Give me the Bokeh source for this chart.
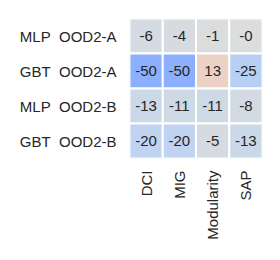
import math
from bokeh.plotting import figure
from bokeh.models import ColumnDataSource, FactorRange
from bokeh.core.properties import value
from bokeh.embed import file_html
from bokeh.resources import INLINE

# ---- data ----
metrics = ["DCI", "MIG", "Modularity", "SAP"]
rows = ["MLP\u00a0\u00a0OOD2-A", "GBT\u00a0\u00a0OOD2-A", "MLP\u00a0\u00a0OOD2-B", "GBT\u00a0\u00a0OOD2-B"]
mlp_ood2a = [-6, -4, -1, -0.3]
gbt_ood2a = [-50, -50, 13, -25]
mlp_ood2b = [-13, -11, -11, -8]
gbt_ood2b = [-20, -20, -5, -13]
vmin, vmax = -100, 100

# ---- coolwarm colormap (anchor points) ----
anchors = [
    (0.0, (0.2298, 0.2987, 0.7537)),
    (0.125, (0.3843, 0.5098, 0.9172)),
    (0.25, (0.5529, 0.6900, 0.9955)),
    (0.3125, (0.6395, 0.7597, 0.9932)),
    (0.375, (0.7227, 0.8127, 0.9606)),
    (0.4375, (0.7992, 0.8501, 0.9079)),
    (0.5, (0.8654, 0.8654, 0.8654)),
    (0.5625, (0.9243, 0.8275, 0.7724)),
    (0.625, (0.9597, 0.7691, 0.6784)),
    (0.75, (0.9580, 0.6036, 0.4832)),
    (0.875, (0.8674, 0.3760, 0.3002)),
    (1.0, (0.7057, 0.0156, 0.1502)),
]


def coolwarm(t):
    t = min(max(t, 0.0), 1.0)
    for (t0, c0), (t1, c1) in zip(anchors[:-1], anchors[1:]):
        if t0 <= t <= t1:
            f = (t - t0) / (t1 - t0)
            c = [a + (b - a) * f for a, b in zip(c0, c1)]
            return "#%02x%02x%02x" % tuple(int(round(v * 255)) for v in c)
    return "#dddddd"


series = [mlp_ood2a, gbt_ood2a, mlp_ood2b, gbt_ood2b]
xs, ys, vals, cols, labels = [], [], [], [], []
for r, vs in zip(rows, series):
    for m, v in zip(metrics, vs):
        xs.append(m)
        ys.append(r)
        vals.append(v)
        cols.append(coolwarm((v - vmin) / (vmax - vmin)))
        labels.append(f"{v:.0f}")

src = ColumnDataSource(dict(x=xs, y=ys, v=vals, color=cols, label=labels))

p = figure(
    width=272, height=252,
    x_range=FactorRange(factors=metrics, range_padding=0),
    y_range=FactorRange(factors=list(reversed(rows)), range_padding=0),
    output_backend="svg", toolbar_location=None,
    min_border_left=129, min_border_right=10, min_border_top=18, min_border_bottom=94,
)
p.rect(x="x", y="y", width=1, height=1, source=src,
       fill_color="color", line_color="white", line_width=2)
p.text(x="x", y="y", text="label", source=src,
       text_align="center", text_baseline="middle",
       text_font=value("Liberation Sans"), text_font_size="15px",
       text_color="#262626")

p.outline_line_color = None
p.grid.grid_line_color = None
for ax in (p.xaxis, p.yaxis):
    ax.axis_line_color = None
    ax.major_tick_line_color = None
    ax.minor_tick_line_color = None
    ax.major_tick_out = 0
    ax.major_tick_in = 0
    ax.major_label_text_font = "Liberation Sans"
    ax.major_label_text_font_size = "15px"
    ax.major_label_text_color = "#262626"
p.xaxis.major_label_orientation = math.pi / 2
p.xaxis.major_label_standoff = 12
p.yaxis.major_label_standoff = 13

open("out.html", "w").write(file_html(p, INLINE))
